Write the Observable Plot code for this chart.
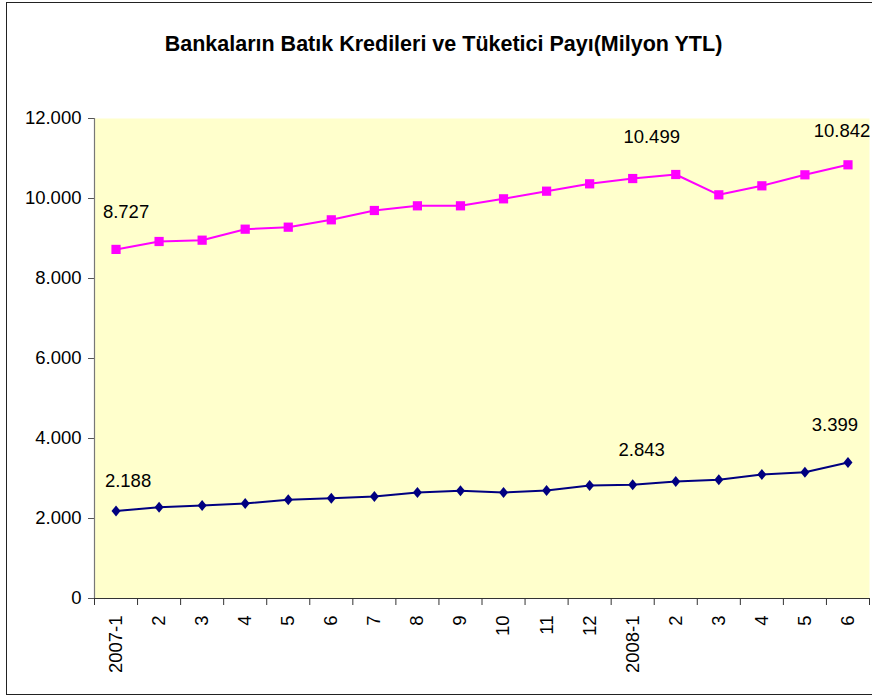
<!DOCTYPE html>
<html>
<head>
<meta charset="utf-8">
<script src="https://cdn.jsdelivr.net/npm/d3@7"></script>
<script src="https://cdn.jsdelivr.net/npm/@observablehq/plot@0.6"></script>
<style>
  html, body { margin: 0; padding: 0; background: #fff; }
  #wrap { position: relative; width: 872px; height: 696px; overflow: hidden; font-family: "Liberation Sans", Arial, sans-serif; }
  #border { position: absolute; left: 6px; top: 2px; width: 880px; height: 693px; border: 1.5px solid #222; box-sizing: border-box; }
  #title { position: absolute; left: 0; top: 0; width: 887px; height: 90px; line-height: 88px; text-align: center; font-weight: bold; font-size: 21.5px; color: #000; }
  #chart { position: absolute; left: 0; top: 100px; }
</style>
</head>
<body>
<div id="wrap">
  <div id="border"></div>
  <div id="title">Bankaların Batık Kredileri ve Tüketici Payı(Milyon YTL)</div>
  <div id="chart"></div>
</div>
<script>
// Category labels (months)
const categories = ["2007-1","2","3","4","5","6","7","8","9","10","11","12","2008-1","2","3","4","5","6"];
// Total non-performing loans (magenta, squares)
const totalValues = [8727, 8925, 8958, 9233, 9283, 9467, 9700, 9817, 9817, 9992, 10183, 10367, 10499, 10600, 10092, 10317, 10592, 10842];
// Consumer share (navy, diamonds)
const consumerValues = [2188, 2283, 2325, 2375, 2467, 2508, 2550, 2650, 2692, 2650, 2700, 2825, 2843, 2925, 2967, 3100, 3158, 3399];
// Y tick values
const yTicks = [0, 2000, 4000, 6000, 8000, 10000, 12000];
// Indices of labelled points
const labelledIdx = [0, 12, 17];

const fmt = d => d3.format(",")(d).replace(/,/g, ".");

const total = totalValues.map((v, i) => ({i: i + 0.5, v}));
const consumer = consumerValues.map((v, i) => ({i: i + 0.5, v}));
const boundaries = d3.range(categories.length + 1);
const centers = categories.map((c, i) => i + 0.5);

const diamond = {
  draw(ctx, size) {
    const a = Math.sqrt(size / Math.PI);
    ctx.moveTo(0, -1.1 * a);
    ctx.lineTo(0.9 * a, 0);
    ctx.lineTo(0, 1.1 * a);
    ctx.lineTo(-0.9 * a, 0);
    ctx.closePath();
  }
};

// label offsets (presentation only)
const totalOffsets = {0: [10, -37], 12: [19, -41], 17: [-6, -34]};
const consumerOffsets = {0: [12, -30], 12: [9, -35], 17: [-13, -37]};

const labelMarks = [];
for (const k of labelledIdx) {
  labelMarks.push(Plot.text([total[k]], {x: "i", y: "v", text: d => fmt(d.v), dx: totalOffsets[k][0], dy: totalOffsets[k][1], fontSize: 18.5, fill: "#000"}));
  labelMarks.push(Plot.text([consumer[k]], {x: "i", y: "v", text: d => fmt(d.v), dx: consumerOffsets[k][0], dy: consumerOffsets[k][1], fontSize: 18.5, fill: "#000"}));
}

const chart = Plot.plot({
  width: 872,
  height: 596,
  marginLeft: 94,
  marginRight: 3,
  marginTop: 18,
  marginBottom: 98,
  style: {fontFamily: '"Liberation Sans", Arial, sans-serif', fontSize: "18.5px", background: "transparent", overflow: "visible"},
  x: {domain: [0, categories.length], axis: null},
  y: {domain: [0, 12000], axis: null},
  marks: [
    Plot.frame({fill: "#FFFFCC", stroke: null}),
    Plot.axisY({ticks: yTicks, tickFormat: fmt, tickSize: 6, tickPadding: 7, stroke: "#555", fill: "#000", fontSize: 18.5, label: null}),
    Plot.ruleX([0], {stroke: "#777", strokeWidth: 1.2}),
    Plot.axisX({ticks: boundaries, tickFormat: () => "", tickSize: 7, stroke: "#333", label: null}),
    Plot.axisX({ticks: centers, tickFormat: d => categories[Math.round(d - 0.5)], tickSize: 0, tickPadding: 17, tickRotate: -90, fill: "#000", fontSize: 18.5, label: null}),
    Plot.ruleY([0], {stroke: "#333", strokeWidth: 1.2}),
    Plot.line(total, {x: "i", y: "v", stroke: "#FF00FF", strokeWidth: 2}),
    Plot.dot(total, {x: "i", y: "v", symbol: "square", r: 5.2, fill: "#FF00FF", stroke: null}),
    Plot.line(consumer, {x: "i", y: "v", stroke: "#000080", strokeWidth: 2}),
    Plot.dot(consumer, {x: "i", y: "v", symbol: diamond, r: 5, fill: "#000080", stroke: null}),
    ...labelMarks
  ]
});
document.getElementById("chart").appendChild(chart);
</script>
</body>
</html>
